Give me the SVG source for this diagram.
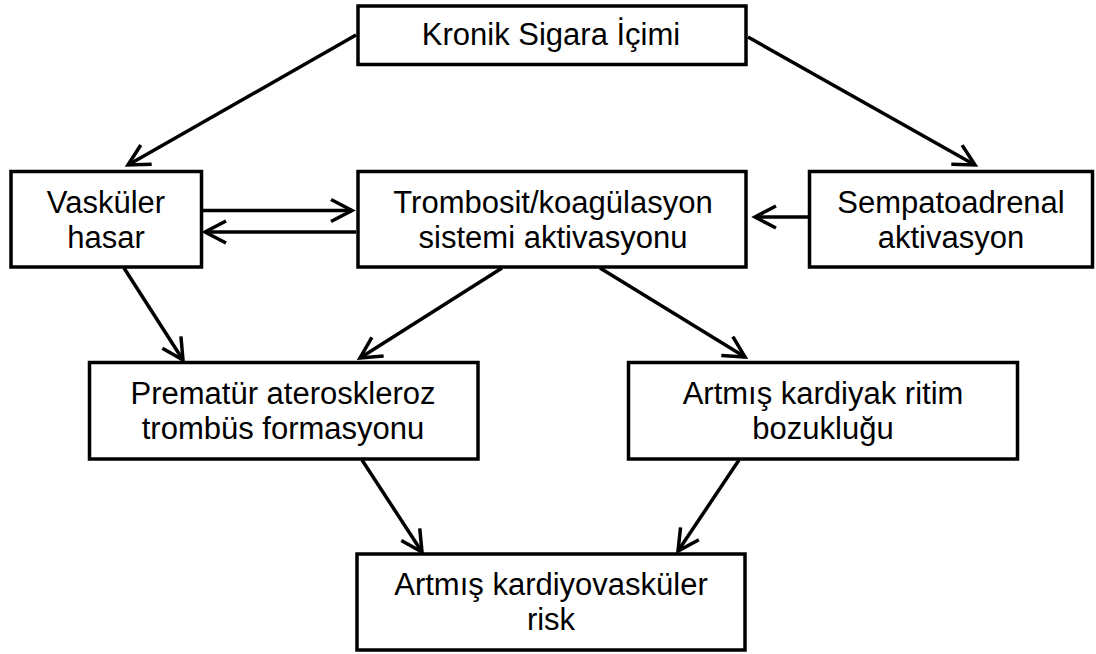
<svg xmlns="http://www.w3.org/2000/svg" width="1096" height="654" viewBox="0 0 1096 654">
<style>
.box{fill:#fff;stroke:#000;stroke-width:3.5}
.t{font-family:"Liberation Sans",Arial,sans-serif;font-size:31px;fill:#000;text-anchor:middle}
.c{fill:none;stroke:#000;stroke-width:3.5}
</style>
<defs>
<marker id="ah" markerUnits="userSpaceOnUse" markerWidth="40" markerHeight="40" viewBox="-30 -20 40 40" refX="0" refY="0" orient="auto" overflow="visible">
<path d="M-21,-11 L0,0 L-21,11" fill="none" stroke="#000" stroke-width="3.5" stroke-linejoin="miter"/>
</marker>
</defs>
<rect width="1096" height="654" fill="#fff"/>
<g id="connectors">
<line class="c" x1="356" y1="35" x2="128" y2="165" marker-end="url(#ah)"/>
<line class="c" x1="748" y1="37" x2="975" y2="165" marker-end="url(#ah)"/>
<line class="c" x1="203" y1="210.5" x2="352" y2="210.5" marker-end="url(#ah)"/>
<line class="c" x1="356" y1="232" x2="205" y2="232" marker-end="url(#ah)"/>
<line class="c" x1="808" y1="217" x2="755" y2="217" marker-end="url(#ah)"/>
<line class="c" x1="124" y1="268" x2="183" y2="360" marker-end="url(#ah)"/>
<line class="c" x1="502" y1="268" x2="360" y2="358" marker-end="url(#ah)"/>
<line class="c" x1="600" y1="268" x2="745" y2="357" marker-end="url(#ah)"/>
<line class="c" x1="362" y1="460" x2="422" y2="552" marker-end="url(#ah)"/>
<line class="c" x1="739" y1="460" x2="678" y2="551" marker-end="url(#ah)"/>
</g>
<g id="n1">
<rect class="box" x="358" y="6" width="388" height="58.5"/>
<text class="t" x="551" y="45">Kronik Sigara İçimi</text>
</g>
<g id="n2">
<rect class="box" x="11" y="171.5" width="190.5" height="95.5"/>
<text class="t" x="106" y="213">Vasküler</text>
<text class="t" x="106" y="248">hasar</text>
</g>
<g id="n3">
<rect class="box" x="358" y="171.5" width="388" height="95.5"/>
<text class="t" x="553" y="213">Trombosit/koagülasyon</text>
<text class="t" x="553" y="248">sistemi aktivasyonu</text>
</g>
<g id="n4">
<rect class="box" x="809.5" y="171.5" width="283" height="95.5"/>
<text class="t" x="951" y="213">Sempatoadrenal</text>
<text class="t" x="951" y="248">aktivasyon</text>
</g>
<g id="n5">
<rect class="box" x="89.5" y="362.5" width="388.5" height="96.5"/>
<text class="t" x="283" y="404">Prematür ateroskleroz</text>
<text class="t" x="283" y="439">trombüs formasyonu</text>
</g>
<g id="n6">
<rect class="box" x="628.5" y="362.5" width="389" height="96.5"/>
<text class="t" x="823" y="404">Artmış kardiyak ritim</text>
<text class="t" x="823" y="439">bozukluğu</text>
</g>
<g id="n7">
<rect class="box" x="357" y="554" width="388" height="96"/>
<text class="t" x="551" y="595">Artmış kardiyovasküler</text>
<text class="t" x="551" y="630">risk</text>
</g>
</svg>
